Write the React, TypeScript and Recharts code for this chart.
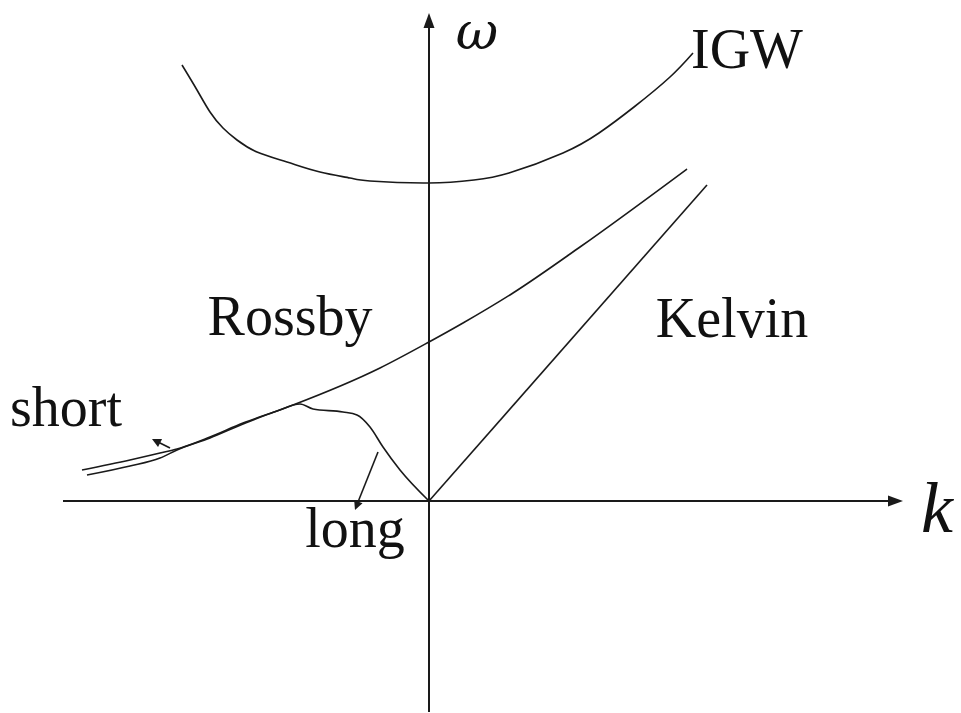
import React from 'react';
import { ComposedChart, Line, Scatter, XAxis, YAxis, ReferenceDot } from 'recharts';

// Schematic equatorial wave dispersion diagram (frequency ω vs wavenumber k).
// Units: 1 unit on either axis is the same screen length, so slopes read true.

const igwCurve = [
  { k: -2.47, w: 4.36 },
  { k: -2.32, w: 4.11 },
  { k: -2.19, w: 3.89 },
  { k: -2.06, w: 3.73 },
  { k: -1.92, w: 3.61 },
  { k: -1.72, w: 3.49 },
  { k: -1.42, w: 3.39 },
  { k: -1.09, w: 3.29 },
  { k: -0.79, w: 3.23 },
  { k: -0.59, w: 3.2 },
  { k: 0, w: 3.18 },
  { k: 0.45, w: 3.21 },
  { k: 0.8, w: 3.28 },
  { k: 1.34, w: 3.48 },
  { k: 1.7, w: 3.68 },
  { k: 2.05, w: 3.94 },
  { k: 2.41, w: 4.24 },
  { k: 2.64, w: 4.48 },
];

const mixedCurve = [
  { k: -3.47, w: 0.31 },
  { k: -2.99, w: 0.41 },
  { k: -2.69, w: 0.48 },
  { k: -2.52, w: 0.52 },
  { k: -2.19, w: 0.64 },
  { k: -1.86, w: 0.78 },
  { k: -1.52, w: 0.9 },
  { k: -1.36, w: 0.96 },
  { k: -0.49, w: 1.33 },
  { k: 0, w: 1.59 },
  { k: 0.34, w: 1.78 },
  { k: 0.84, w: 2.08 },
  { k: 1.51, w: 2.54 },
  { k: 2.58, w: 3.32 },
];

const rossbyCurve = [
  { k: -3.42, w: 0.26 },
  { k: -2.99, w: 0.35 },
  { k: -2.69, w: 0.43 },
  { k: -2.52, w: 0.51 },
  { k: -2.19, w: 0.63 },
  { k: -1.86, w: 0.77 },
  { k: -1.52, w: 0.9 },
  { k: -1.29, w: 0.97 },
  { k: -1.16, w: 0.92 },
  { k: -0.86, w: 0.89 },
  { k: -0.72, w: 0.86 },
  { k: -0.59, w: 0.74 },
  { k: -0.46, w: 0.54 },
  { k: -0.29, w: 0.31 },
  { k: 0, w: 0 },
];

const kelvinLine = [
  { k: 0, w: 0 },
  { k: 2.78, w: 3.16 },
];

const kAxis = [
  { k: -3.66, w: 0 },
  { k: 4.6, w: 0 },
];

const wAxis = [
  { k: 0, w: -2.11 },
  { k: 0, w: 4.74 },
];

const shortArrow = [
  { k: -2.59, w: 0.53 },
  { k: -2.72, w: 0.595 },
];

const longArrow = [
  { k: -0.51, w: 0.49 },
  { k: -0.71, w: -0.01 },
];

// tips of the arrows with the direction they point in
const axisHeads = [
  { k: 4.74, w: 0, dk: 1, dw: 0 },
  { k: 0, w: 4.88, dk: 0, dw: 1 },
];

const smallHeads = [
  { k: -2.77, w: 0.62, dk: -0.18, dw: 0.09 },
  { k: -0.74, w: -0.09, dk: -0.23, dw: -0.58 },
];

const K_DOMAIN: [number, number] = [-4.29, 5.32];
const W_DOMAIN: [number, number] = [-2.12, 5.01];

const INK = '#1a1a1a';
const SERIF = '"Liberation Serif", "Times New Roman", serif';

function makeHead(len: number, half: number) {
  return (props: any) => {
    const { cx, cy, payload } = props;
    if (cx == null || cy == null) return <g />;
    const ang = (Math.atan2(-payload.dw, payload.dk) * 180) / Math.PI;
    return (
      <polygon
        points={`0,0 ${-len},${-half} ${-len},${half}`}
        transform={`translate(${cx},${cy}) rotate(${ang})`}
        fill={INK}
      />
    );
  };
}

function makeText(text: string, size: number, italic = false, family = SERIF) {
  return (props: any) => (
    <text
      x={props.cx}
      y={props.cy}
      textAnchor="middle"
      fontFamily={family}
      fontSize={size}
      fontStyle={italic ? 'italic' : 'normal'}
      fill="#111"
    >
      {text}
    </text>
  );
}

const lineProps = {
  dataKey: 'w',
  stroke: INK,
  dot: false,
  activeDot: false,
  legendType: 'none' as const,
  isAnimationActive: false,
};

export default function App() {
  return (
    <div style={{ position: 'absolute', left: 0, top: 0, background: '#fff' }}>
      <ComposedChart width={961} height={713} margin={{ top: 0, right: 0, bottom: 0, left: 0 }}>
        <XAxis type="number" dataKey="k" domain={K_DOMAIN} allowDataOverflow hide />
        <YAxis type="number" dataKey="w" domain={W_DOMAIN} allowDataOverflow hide />

        <Line {...lineProps} data={kAxis} type="linear" strokeWidth={2} />
        <Line {...lineProps} data={wAxis} type="linear" strokeWidth={2} />

        <Line {...lineProps} data={igwCurve} type="natural" strokeWidth={1.6} />
        <Line {...lineProps} data={mixedCurve} type="monotone" strokeWidth={1.6} />
        <Line {...lineProps} data={rossbyCurve} type="monotone" strokeWidth={1.6} />
        <Line {...lineProps} data={kelvinLine} type="linear" strokeWidth={1.6} />

        <Line {...lineProps} data={shortArrow} type="linear" strokeWidth={1.6} />
        <Line {...lineProps} data={longArrow} type="linear" strokeWidth={1.6} />

        <Scatter data={axisHeads} dataKey="w" shape={makeHead(15, 5.5)} isAnimationActive={false} />
        <Scatter data={smallHeads} dataKey="w" shape={makeHead(9, 4.5)} isAnimationActive={false} />

        <ReferenceDot x={0.48} y={4.52} r={0} shape={makeText('ω', 52, true, '"DejaVu Serif", serif')} />
        <ReferenceDot x={5.08} y={-0.31} r={0} shape={makeText('k', 72, true)} />
        <ReferenceDot x={3.18} y={4.33} r={0} shape={makeText('IGW', 56)} />
        <ReferenceDot x={-1.39} y={1.66} r={0} shape={makeText('Rossby', 56)} />
        <ReferenceDot x={3.03} y={1.64} r={0} shape={makeText('Kelvin', 56)} />
        <ReferenceDot x={-3.63} y={0.75} r={0} shape={makeText('short', 56)} />
        <ReferenceDot x={-0.74} y={-0.46} r={0} shape={makeText('long', 56)} />
      </ComposedChart>
    </div>
  );
}
